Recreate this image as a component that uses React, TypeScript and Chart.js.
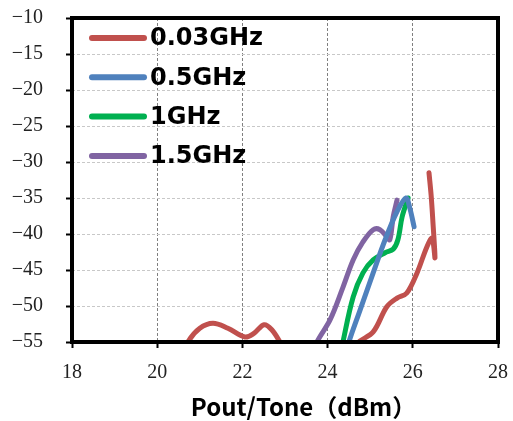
import React, { useEffect, useRef } from "react";
import { Chart, registerables } from "chart.js";

Chart.register(...registerables);

const seriesLabels = ["0.03GHz", "0.5GHz", "1GHz", "1.5GHz"];
const seriesColors = ["#C0504D", "#4F81BD", "#00B050", "#8064A2"];

const red03X = [20.6, 20.72, 21.0, 21.31, 21.66, 22.06, 22.27, 22.51, 22.69, 22.88, 23.1, 24.4, 24.71, 25.07, 25.39, 25.63, 25.86, 26.1, 26.33, 26.45, 26.52, 26.47, 26.43, 26.38];
const red03Y = [-57.0, -55.0, -53.1, -52.4, -53.1, -54.3, -53.8, -52.6, -53.3, -55.0, -57.5, -57.5, -55.1, -53.6, -50.1, -48.9, -48.2, -45.4, -41.8, -40.6, -43.3, -38.1, -34.6, -31.5];

const blue05X = [24.42, 24.5, 24.76, 25.07, 25.35, 25.63, 25.84, 25.93, 26.03];
const blue05Y = [-57.0, -55.0, -50.6, -45.4, -40.8, -36.9, -35.0, -36.4, -39.0];

const green1X = [24.3, 24.36, 24.6, 24.83, 25.07, 25.35, 25.54, 25.65, 25.75, 25.89];
const green1Y = [-57.0, -55.0, -48.75, -45.4, -43.6, -42.6, -42.1, -40.8, -37.6, -35.0];

const purple15X = [23.6, 23.75, 24.06, 24.36, 24.6, 24.83, 25.07, 25.23, 25.39, 25.46, 25.54, 25.63];
const purple15Y = [-57.5, -55.0, -51.9, -47.4, -43.6, -41.1, -39.4, -39.4, -40.4, -40.8, -37.6, -35.3];

const xTickMin = 18;
const xTickMax = 28;
const xTickStep = 2;
const yTickMin = -55;
const yTickMax = -10;
const yTickStep = 5;
const xAxisTitle = "Pout/Tone（dBm）";

const allX = [red03X, blue05X, green1X, purple15X];
const allY = [red03Y, blue05Y, green1Y, purple15Y];

const framePlugin = {
  id: "frameAndLegend",
  afterDatasetsDraw(chart: any) {
    const { ctx, chartArea } = chart;
    ctx.save();
    ctx.strokeStyle = "#000";
    ctx.lineWidth = 4;
    ctx.strokeRect(chartArea.left, chartArea.top, chartArea.right - chartArea.left, chartArea.bottom - chartArea.top);
    // legend
    chart.data.datasets.forEach((ds: any, i: number) => {
      const y = chartArea.top + 20 + i * 39.3;
      ctx.beginPath();
      ctx.lineCap = "round";
      ctx.lineWidth = 6;
      ctx.strokeStyle = ds.borderColor;
      ctx.moveTo(chartArea.left + 20, y);
      ctx.lineTo(chartArea.left + 72, y);
      ctx.stroke();
      ctx.fillStyle = "#000";
      ctx.font = "bold 24px 'DejaVu Sans'";
      ctx.textBaseline = "middle";
      ctx.textAlign = "left";
      ctx.fillText(ds.label, chartArea.left + 78, y + 1);
    });
    // x axis title
    ctx.font = "bold 24px 'Noto Sans CJK SC'";
    ctx.textBaseline = "middle";
    ctx.textAlign = "left";
    const m = ctx.measureText(xAxisTitle);
    const visW = m.actualBoundingBoxLeft + m.actualBoundingBoxRight;
    const cx = (chartArea.left + chartArea.right) / 2 + 12;
    ctx.fillText(xAxisTitle, cx - visW / 2 + m.actualBoundingBoxLeft, chart.height - 14);
    ctx.restore();
  },
};

export default function App() {
  const canvasRef = useRef<HTMLCanvasElement | null>(null);

  useEffect(() => {
    document.body.style.margin = "0";
    const canvas = canvasRef.current;
    if (!canvas) return;
    const datasets = seriesLabels.map((label, i) => ({
      label,
      data: allX[i].map((x, j) => ({ x, y: allY[i][j] })),
      borderColor: seriesColors[i],
      backgroundColor: seriesColors[i],
      borderWidth: 5,
      pointRadius: 0,
      showLine: true,
      tension: 0.35,
      borderCapStyle: "round",
      borderJoinStyle: "round",
    }));
    const chart = new Chart(canvas, {
      type: "scatter",
      data: { datasets } as any,
      plugins: [framePlugin],
      options: {
        animation: false,
        responsive: true,
        maintainAspectRatio: false,
        devicePixelRatio: 1,
        layout: { padding: { top: 18, right: 15, left: 0, bottom: 0 } },
        plugins: { legend: { display: false }, tooltip: { enabled: false } },
        scales: {
          x: {
            type: "linear",
            min: xTickMin,
            max: xTickMax,
            afterFit: (scale: any) => {
              scale.height = 79;
              scale.paddingLeft = 0;
              scale.paddingRight = 0;
            },
            ticks: {
              stepSize: xTickStep,
              color: "#222",
              font: { family: "'Liberation Serif'", size: 20 },
              padding: 13,
            },
            grid: {
              color: "#808080",
              lineWidth: 1,
              tickLength: 6,
              tickColor: "#000",
              tickWidth: 2,
            },
            border: { display: false, dash: [3, 2] },
          },
          y: {
            type: "linear",
            min: yTickMin,
            max: yTickMax,
            afterFit: (scale: any) => {
              scale.width = 72;
              scale.paddingTop = 0;
              scale.paddingBottom = 0;
            },
            ticks: {
              stepSize: yTickStep,
              color: "#222",
              font: { family: "'Liberation Serif'", size: 20 },
              padding: 23,
              callback: (v: any) => String(v).replace("-", "\u2212"),
            },
            grid: {
              color: "#c8c8c8",
              lineWidth: 1,
              tickLength: 6,
              tickColor: "#000",
              tickWidth: 2,
            },
            border: { display: false, dash: [3, 2] },
          },
        },
      } as any,
    });
    return () => chart.destroy();
  }, []);

  return (
    <div style={{ width: 513, height: 421, position: "relative" }}>
      <canvas ref={canvasRef} />
    </div>
  );
}
